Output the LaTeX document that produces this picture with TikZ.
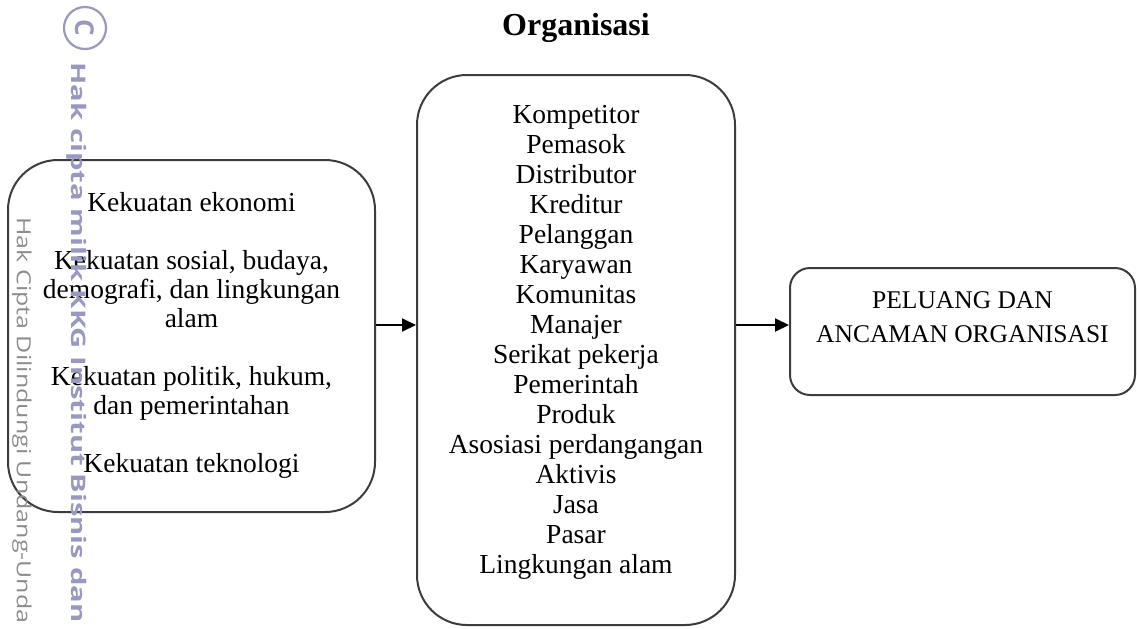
\documentclass[tikz,border=0pt]{standalone}
\usepackage{graphicx}
\usepackage{fontspec}
\setmainfont{Liberation Serif}
\newfontfamily\wmfont{Open Sans}
\usetikzlibrary{arrows.meta}
\definecolor{wmblue}{RGB}{152,152,192}
\definecolor{wmgray}{RGB}{140,140,140}
\definecolor{boxline}{RGB}{60,60,60}
\begin{document}
\begin{tikzpicture}[x=0.5pt,y=-0.5pt,
  box/.style={draw=boxline, line width=1pt, inner sep=0pt, align=center},
  arr/.style={draw=black, line width=1pt, -{Triangle[length=7pt,width=6.5pt]}},
  wmtext/.style={rotate=-90, anchor=base west, inner sep=0pt}
]
\useasboundingbox (0,0) rectangle (1137,628);

\node[font=\bfseries\fontsize{16}{18}\selectfont, anchor=base, inner sep=0pt] (title) at (576,35) {Organisasi};

\node[box, rounded corners=25pt, minimum width=183.5pt, minimum height=176pt,
      font=\fontsize{13.75}{14.5}\selectfont] (L) at (191.5,336)
  {\begin{tabular}{@{}c@{}}Kekuatan ekonomi\\ \\ Kekuatan sosial, budaya,\\ demografi, dan lingkungan\\ alam\\ \\ Kekuatan politik, hukum,\\ dan pemerintahan\\ \\ Kekuatan teknologi\end{tabular}};

\node[box, rounded corners=25pt, minimum width=159pt, minimum height=275pt,
      font=\fontsize{13.75}{15}\selectfont] (M) at (576,350)
  {\begin{tabular}{@{}c@{}}Kompetitor\\ Pemasok\\ Distributor\\ Kreditur\\ Pelanggan\\ Karyawan\\ Komunitas\\ Manajer\\ Serikat pekerja\\ Pemerintah\\ Produk\\ Asosiasi perdangangan\\ Aktivis\\ Jasa\\ Pasar\\ Lingkungan alam\\[8pt]\end{tabular}};

\node[box, rounded corners=10pt, minimum width=172.5pt, minimum height=63.5pt,
      font=\fontsize{12.75}{17}\selectfont] (R) at (962.5,331.5)
  {\begin{tabular}{@{}c@{}}PELUANG DAN\\ ANCAMAN ORGANISASI\\[13.3pt]\end{tabular}};

\coordinate (a1) at ([yshift=5.5pt]L.east);
\coordinate (a2) at ([yshift=3.25pt]R.west);
\draw[arr] (a1) -- (a1 -| M.west);
\draw[arr] (a2 -| M.east) -- (a2);

\node[circle, draw=wmblue, line width=1.1pt, minimum size=21pt, inner sep=0pt, text=wmblue,
      font=\wmfont\bfseries\fontsize{13}{13}\selectfont, rotate=-90] (copy) at (85,28) {C};
\node[wmtext, text=wmblue, font=\wmfont\bfseries] (wm1) at (72,62)
  {\resizebox{280pt}{7.6pt}{Hak cipta milik KKG Institut Bisnis dan}};
\node[wmtext, text=wmgray, font=\wmfont] (wm2) at (17,217)
  {\resizebox{203pt}{7.4pt}{Hak Cipta Dilindungi Undang-Unda}};
\end{tikzpicture}
\end{document}
